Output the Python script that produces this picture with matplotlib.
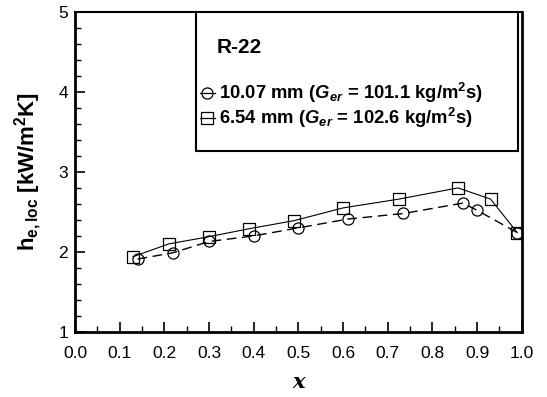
import matplotlib.pyplot as plt
from matplotlib.patches import Rectangle
from matplotlib.ticker import MultipleLocator

# quality x and local heat transfer coefficient (kW/m2K)
x_1007 = [0.14, 0.22, 0.30, 0.40, 0.50, 0.61, 0.735, 0.868, 0.90, 0.99]
h_1007 = [1.91, 1.99, 2.13, 2.20, 2.30, 2.41, 2.48, 2.61, 2.52, 2.24]

x_654 = [0.13, 0.21, 0.30, 0.39, 0.49, 0.60, 0.725, 0.857, 0.93, 0.99]
h_654 = [1.94, 2.10, 2.19, 2.29, 2.39, 2.55, 2.66, 2.80, 2.66, 2.24]

legend_labels = [r"10.07 mm ($\mathbfit{G}_{\mathbfit{er}}$ = 101.1 kg/m$^\mathbf{2}$s)",
                 r"6.54 mm ($\mathbfit{G}_{\mathbfit{er}}$ = 102.6 kg/m$^\mathbf{2}$s)"]

plt.rcParams['font.family'] = ['Liberation Sans', 'DejaVu Sans']
plt.rcParams['mathtext.fontset'] = 'custom'
plt.rcParams['mathtext.rm'] = 'Liberation Sans:bold'
plt.rcParams['mathtext.bf'] = 'Liberation Sans:bold'
plt.rcParams['mathtext.bfit'] = 'Liberation Sans:bold:italic'
plt.rcParams['mathtext.it'] = 'Liberation Sans:italic'

fig = plt.figure(figsize=(5.47, 3.97), dpi=100)
ax = fig.add_axes([0.137, 0.164, 0.817, 0.806])

ax.plot(x_1007, h_1007, '--', color='k', linewidth=1.0, dashes=(7, 4),
        marker='o', markersize=8, markerfacecolor='none', markeredgewidth=0.9)
ax.plot(x_654, h_654, '-', color='k', linewidth=0.8,
        marker='s', markersize=8, markerfacecolor='none', markeredgewidth=0.9)

ax.set_xlim(0, 1.0)
ax.set_ylim(1, 5)
ax.xaxis.set_major_locator(MultipleLocator(0.1))
ax.xaxis.set_minor_locator(MultipleLocator(0.05))
ax.yaxis.set_major_locator(MultipleLocator(1))
ax.yaxis.set_minor_locator(MultipleLocator(0.2))
ax.xaxis.set_major_formatter(plt.FormatStrFormatter('%.1f'))
ax.tick_params(which='both', direction='in', top=False, right=False, labelsize=12.5)
ax.tick_params(which='major', length=7, width=1.2)
ax.tick_params(which='minor', length=4, width=1.0)
ax.tick_params(axis='x', pad=10)
ax.tick_params(axis='y', pad=5)
for side in ['left', 'bottom', 'right']:
    ax.spines[side].set_linewidth(2.0)
ax.spines['top'].set_linewidth(1.5)

ax.set_xlabel('x', fontsize=15, fontweight='bold', fontstyle='italic',
              family='DejaVu Serif', labelpad=8)
ax.set_ylabel(r'h$_{\mathbf{e,loc}}$ [kW/m$^\mathbf{2}$K]', fontsize=16,
              fontweight='bold', labelpad=10)

# legend box
box = Rectangle((0.271, 0.566), 0.72, 0.434, transform=ax.transAxes,
                facecolor='white', edgecolor='k', linewidth=1.5, zorder=3)
ax.add_patch(box)
ax.text(0.316, 0.8875, 'R-22', transform=ax.transAxes, fontsize=15,
        fontweight='bold', va='center', zorder=4)
for i, (lab, mk) in enumerate(zip(legend_labels, ['o', 's'])):
    yy = 0.747 - i * 0.078
    ax.plot([0.279, 0.314], [yy, yy], '-', color='k', linewidth=0.9,
            transform=ax.transAxes, zorder=4)
    ax.plot([0.2965], [yy], mk, markersize=8, markerfacecolor='none',
            markeredgecolor='k', markeredgewidth=0.9, transform=ax.transAxes,
            zorder=5)
    ax.text(0.322, yy, lab, transform=ax.transAxes, fontsize=13.3,
            fontweight='bold', va='center', zorder=4)

fig.savefig('out.png', dpi=100)
